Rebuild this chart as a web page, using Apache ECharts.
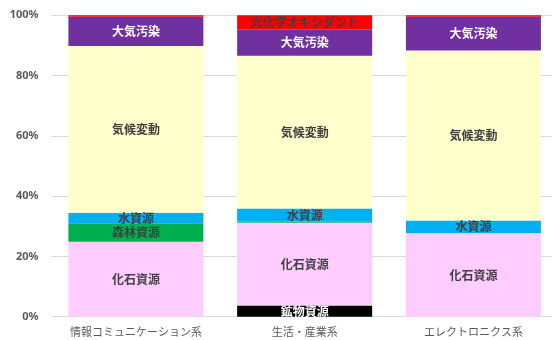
<!DOCTYPE html>
<html><head><meta charset="utf-8">
<script src="https://cdn.jsdelivr.net/npm/echarts@6/dist/echarts.min.js"></script>
<style>html,body{margin:0;padding:0;background:#fff}#c{width:552px;height:340px}</style>
</head><body><div id="c"></div>
<script>
const categories = ['情報コミュニケーション系', '生活・産業系', 'エレクトロニクス系'];
const mineral = [0, 3.7, 0];
const fossil = [24.9, 27.5, 27.7];
const forest = [6.1, 0.4, 0];
const water = [3.5, 4.3, 4.2];
const climate = [55.3, 50.7, 56.4];
const air = [9.7, 8.8, 11.2];
const photochem = [0.5, 4.6, 0.5];
const yTicks = [0, 20, 40, 60, 80, 100];

const seriesDefs = [
  {name: '鉱物資源', data: mineral, color: '#000000', text: '#ffffff'},
  {name: '化石資源', data: fossil, color: '#FFCCFF', text: '#404040'},
  {name: '森林資源', data: forest, color: '#00B050', text: '#404040'},
  {name: '水資源', data: water, color: '#00B0F0', text: '#404040'},
  {name: '気候変動', data: climate, color: '#FFFFCC', text: '#404040'},
  {name: '大気汚染', data: air, color: '#7030A0', text: '#ffffff'},
  {name: '光化学オキシダント', data: photochem, color: '#FF0000', text: '#404040'}
];

const chart = echarts.init(document.getElementById('c'), null, {renderer: 'canvas'});
chart.setOption({
  animation: false,
  grid: {left: 51.5, top: 15.3, width: 506.3, height: 301.4, outerBoundsMode: 'none', containLabel: false},
  xAxis: {
    type: 'category', data: categories,
    axisLine: {show: true, lineStyle: {color: '#d9d9d9', width: 1}},
    axisTick: {show: false},
    axisLabel: {color: '#595959', fontSize: 11, margin: 10, fontFamily: 'Noto Sans CJK JP', interval: 0}
  },
  yAxis: {
    type: 'value', min: 0, max: 100, interval: 20,
    axisLine: {show: false}, axisTick: {show: false},
    splitLine: {lineStyle: {color: '#d9d9d9', width: 1}},
    axisLabel: {color: '#595959', fontSize: 11, fontWeight: 'bold', margin: 13, fontFamily: 'Noto Sans, sans-serif',
      formatter: v => yTicks.includes(v) ? v + '%' : ''}
  },
  series: seriesDefs.map(s => ({
    name: s.name, type: 'bar', stack: 'total', barWidth: 135,
    data: s.data,
    itemStyle: {color: s.color},
    label: {
      show: true, position: 'inside', color: s.text, fontSize: 12, fontWeight: 'bold',
      fontFamily: 'Noto Sans CJK JP',
      formatter: p => p.value >= 1 ? s.name : ''
    }
  }))
});
</script></body></html>
